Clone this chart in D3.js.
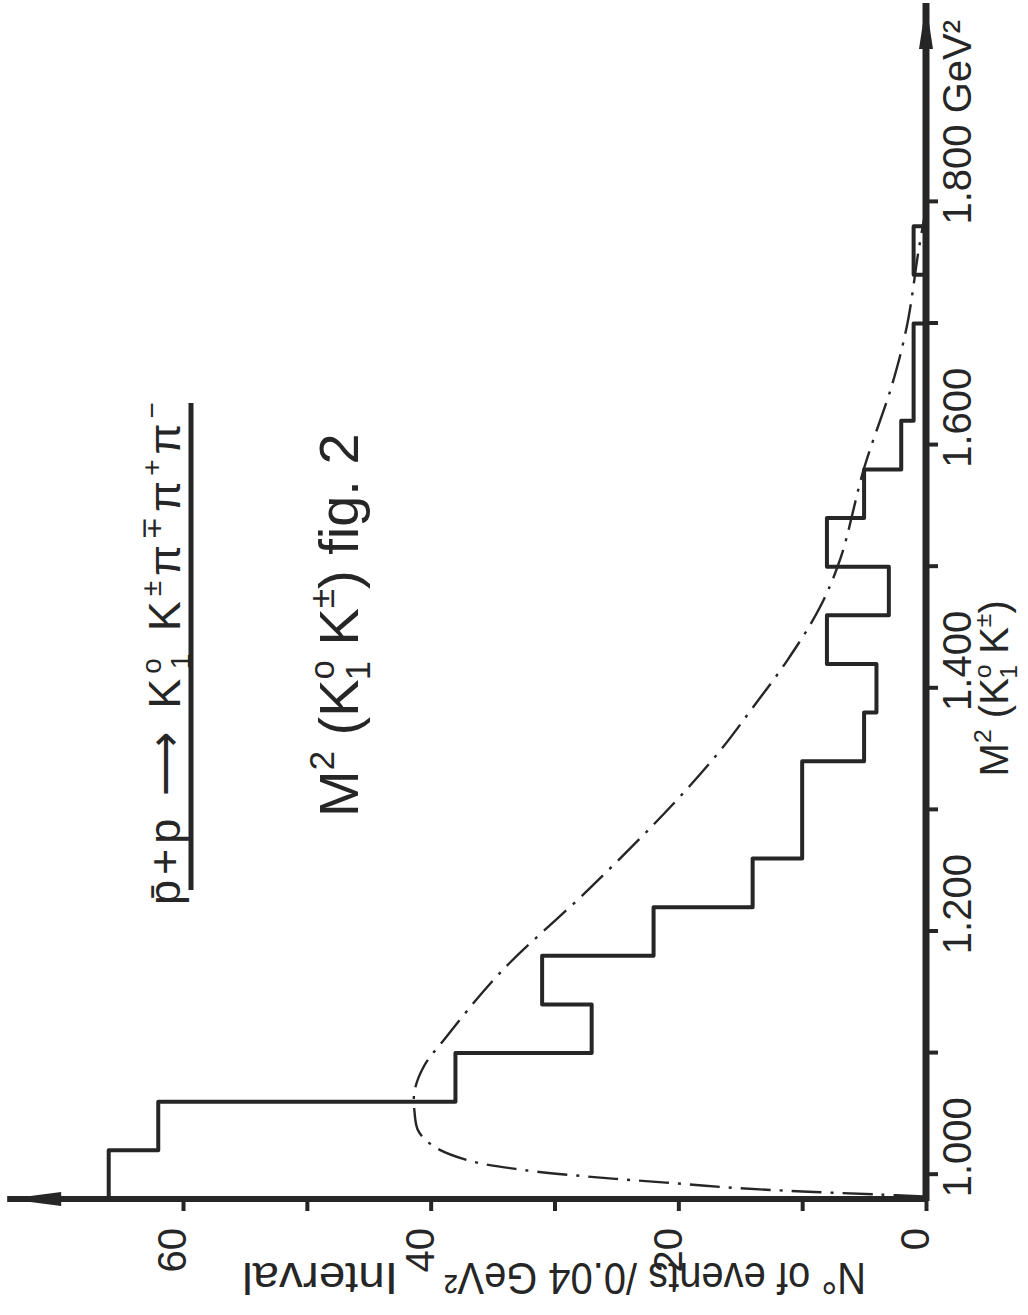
<!DOCTYPE html>
<html>
<head>
<meta charset="utf-8">
<script src="https://cdn.jsdelivr.net/npm/d3@7"></script>
<style>
  body { margin: 0; background: #fff; }
  svg { display: block; }
  text { font-family: "Liberation Sans", Arial, sans-serif; fill: #262626; }
</style>
</head>
<body>
<svg id="chart" width="1028" height="1315"></svg>
<script>
// histogram: lower bin edges (GeV^2) and counts per 0.04 GeV^2 bin
var binLow = [0.98, 1.02, 1.06, 1.10, 1.14, 1.18, 1.22, 1.26, 1.30, 1.34,
              1.38, 1.42, 1.46, 1.50, 1.54, 1.58, 1.62, 1.66, 1.70, 1.74];
var events = [66, 62, 38, 27, 31, 22, 14, 10, 10, 5,
              4, 8, 3, 8, 5, 2, 1, 1, 0, 1];
var binWidth = 0.04;

// dash-dot phase space curve
var fitM2 = [0.982, 0.9836, 0.986, 0.989, 0.9935, 0.998, 1.004, 1.0116, 1.023, 1.036,
             1.051, 1.069, 1.090, 1.110, 1.166, 1.236, 1.305, 1.349, 1.384, 1.423,
             1.466, 1.507, 1.581, 1.651, 1.700, 1.760, 1.795];
var fitN  = [0.2, 3.7, 9.5, 15.3, 21.0, 26.8, 32.6, 36.9, 39.7, 41.0,
             41.3, 41.3, 40.5, 39.0, 34.4, 27.1, 20.4, 16.6, 14.0, 11.2,
             8.6, 6.9, 5.0, 2.7, 1.5, 0.6, 0];

var m2Ticks = [1.0, 1.1, 1.2, 1.3, 1.4, 1.5, 1.6, 1.7, 1.8];
var m2Labels = ["1.000", "", "1.200", "", "1.400", "", "1.600", "", "1.800 GeV\u00b2"];
var nTicks = [0, 10, 20, 30, 40, 50, 60];
var nLabels = ["0", "", "20", "", "40", "", "60"];

var ink = "#262626";
var svg = d3.select("#chart");
svg.append("rect").attr("width", 1028).attr("height", 1315).attr("fill", "#fff");

// the figure is drawn as an ordinary chart, then turned a quarter turn
var h = 70 * 12.383;
var left = 926 - h;
var x = d3.scaleLinear().domain([0.98, 1.80]).range([0, 0.82 * 1216]);
var y = d3.scaleLinear().domain([0, 70]).range([h, 0]);
var g = svg.append("g").attr("transform", "translate(" + left + ",1199) rotate(-90)");

// superscript / subscript helper
function rich(t, parts, size) {
  var shift = 0;
  parts.forEach(function (p) {
    var k = p[1] || "";
    var target = k === "sup" ? -0.42 * size : k === "sub" ? 0.22 * size : 0;
    var ts = t.append("tspan").attr("dy", target - shift)
      .attr("font-size", k ? size * 0.62 : size).text(p[0]);
    if (p[2]) ts.attr("dx", p[2] * size);
    shift = target;
  });
}

// axes
var yAxis = d3.axisLeft(y).tickValues(nTicks).tickSize(12).tickPadding(17)
  .tickFormat(function (d, i) { return nLabels[i]; });
var ya = g.append("g").call(yAxis);
ya.select(".domain").remove();
ya.selectAll("line").attr("stroke", ink).attr("stroke-width", 4);
ya.selectAll("text").attr("font-size", 40).attr("y", -10).style("fill", ink);

var xAxis = d3.axisBottom(x).tickValues(m2Ticks).tickSize(12).tickPadding(5)
  .tickFormat(function (d, i) { return m2Labels[i]; });
var xa = g.append("g").attr("transform", "translate(0," + h + ")").call(xAxis);
xa.select(".domain").remove();
xa.selectAll("line").attr("stroke", ink).attr("stroke-width", 4);
xa.selectAll("text").attr("font-size", 40).attr("text-anchor", "start")
  .attr("dx", "-0.58em").style("fill", ink);

// axis lines with arrow heads
g.append("path").attr("d", "M0," + h + "V-52").attr("stroke", ink).attr("stroke-width", 6).attr("fill", "none");
g.append("path").attr("d", "M0,-52L-7,2L7,2Z").attr("fill", ink);
g.append("path").attr("d", "M-2," + h + "H1196").attr("stroke", ink).attr("stroke-width", 7).attr("fill", "none");
g.append("path").attr("d", "M1196," + h + "L1150," + (h - 7) + "L1150," + (h + 7) + "Z").attr("fill", ink);

// histogram
var steps = [[binLow[0], 0]].concat(binLow.map(function (b, i) { return [b, events[i]]; }));
steps.push([binLow[binLow.length - 1] + binWidth, 0]);
g.append("path")
  .attr("d", d3.line().x(function (d) { return x(d[0]); }).y(function (d) { return y(d[1]); })
    .curve(d3.curveStepAfter)(steps))
  .attr("fill", "none").attr("stroke", ink).attr("stroke-width", 4).attr("stroke-linejoin", "round");

// phase space curve
var fit = fitM2.map(function (m, i) { return [m, fitN[i]]; });
g.append("path")
  .attr("d", d3.line().x(function (d) { return x(d[0]); }).y(function (d) { return y(d[1]); })
    .curve(d3.curveCatmullRom)(fit))
  .attr("fill", "none").attr("stroke", ink).attr("stroke-width", 2.4)
  .attr("stroke-dasharray", "30 9 3 9");

// axis titles
var xt = g.append("text").attr("x", x(1.40)).attr("y", h + 82).attr("text-anchor", "middle");
rich(xt, [["M"], ["2", "sup"], [" (K"], ["o", "sup"], ["1", "sub", -0.36], [" K"], ["\u00b1", "sup"], [")"]], 40);

// y title is upside down in the photo; two pieces with a gap for the "40" label,
// squeezed along the reading direction like the narrow hand lettering
function squeezed(str, screenStart, len) {
  var t = g.append("text").attr("font-size", 44).text(str);
  var k = len / t.node().getComputedTextLength();
  t.attr("transform", "translate(-64," + (screenStart - left) + ") rotate(-90) scale(" + k + ",1)");
}
squeezed("N\u00b0 of events /0.04 GeV\u00b2", 866, 422);
squeezed("Interval", 398, 156);

// title and underline
var title = g.append("text").attr("x", 294).attr("y", 180 - left).attr("letter-spacing", 5);
rich(title, [["p\u0304+p "], ["\u27f6"], [" K"], ["o", "sup"], ["1", "sub", -0.36], [" K"], ["\u00b1", "sup"],
  ["\u03c0"], ["\u2213", "sup"], ["\u03c0"], ["+", "sup"], ["\u03c0"], ["\u2212", "sup"]], 45);
g.append("path").attr("d", "M309," + (191 - left) + "H796")
  .attr("stroke", ink).attr("stroke-width", 5);

var sub = g.append("text").attr("x", 382).attr("y", 358 - left);
rich(sub, [["M"], ["2", "sup"], [" (K"], ["o", "sup"], ["1", "sub", -0.36], [" K"], ["\u00b1", "sup"], [")  fig. 2"]], 56);
</script>
</body>
</html>
